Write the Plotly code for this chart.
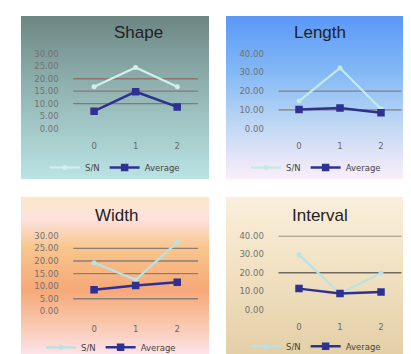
import base64
import plotly.graph_objects as go

# ---------------- data ----------------
x_labels = ["0", "1", "2"]
titles = ["Shape", "Length", "Width", "Interval"]

sn_shape = [16.8, 24.5, 16.8]
avg_shape = [7.0, 14.8, 8.7]
sn_length = [14.7, 32.3, 10.4]
avg_length = [10.2, 11.0, 8.4]
sn_width = [19.3, 12.5, 27.4]
avg_width = [8.6, 10.3, 11.6]
sn_interval = [29.8, 8.8, 19.8]
avg_interval = [11.4, 8.8, 9.6]

y_ticks_30 = [0, 5, 10, 15, 20, 25, 30]
y_ticks_40 = [0, 10, 20, 30, 40]
grid_shape = [10, 15, 20]
grid_length = [10, 20]
grid_width = [5, 15, 20, 25]
grid_interval = [20, 40]

# ---------------- layout helpers ----------------
W, H = 411, 354


def px(x):
    return x / W


def py(y):
    return 1 - y / H


def gradient_uri(stops):
    st = "".join(
        f'<stop offset="{o}" stop-color="{c}"/>' for o, c in stops
    )
    svg = (
        '<svg xmlns="http://www.w3.org/2000/svg" width="100" height="100" '
        'viewBox="0 0 100 100" preserveAspectRatio="none">'
        f'<defs><linearGradient id="g" x1="0" y1="0" x2="0" y2="1">{st}'
        '</linearGradient></defs>'
        '<rect x="0" y="0" width="100" height="100" fill="url(#g)"/></svg>'
    )
    return "data:image/svg+xml;base64," + base64.b64encode(svg.encode()).decode()


panels = [
    dict(title="Shape", sn=sn_shape, avg=avg_shape, ticks=y_ticks_30, grid=grid_shape,
         rng=30, bg=(13, 3, 201, 171), plot=(65.3, 190, 42, 119),
         tpos=(130, 20), lpos=(107, 159), gridcol="#8c7470", sncol="#d2eeee",
         grad=[(0, "#6c8682"), (0.45, "#91b4b2"), (1, "#bae3e4")]),
    dict(title="Length", sn=sn_length, avg=avg_length, ticks=y_ticks_40, grid=grid_length,
         rng=40, bg=(218, 3, 404, 171), plot=(270.5, 393.5, 41.7, 119),
         tpos=(312, 20), lpos=(308, 159), gridcol="#7f7f86", sncol="#c2eae4",
         grad=[(0, "#5a98f6"), (0.35, "#84b9f6"), (0.65, "#bcd6f3"), (1, "#fbeefa")]),
    dict(title="Width", sn=sn_width, avg=avg_width, ticks=y_ticks_30, grid=grid_width,
         rng=30, bg=(13, 189, 201, 354), plot=(65.3, 190, 229.3, 307),
         tpos=(108, 208), lpos=(103, 344), gridcol="#8a7f78", sncol="#b8e2e4",
         grad=[(0, "#fbe8c8"), (0.14, "#fde1de"), (0.32, "#f8c68c"), (0.58, "#f6a878"),
               (0.8, "#f9c8ae"), (1, "#fde6ee")]),
    dict(title="Interval", sn=sn_interval, avg=avg_interval, ticks=y_ticks_40, grid=grid_interval,
         rng=40, bg=(218, 189, 404, 354), plot=(270.5, 393.5, 229.3, 305.3),
         tpos=(312, 208), lpos=(308, 343), gridcol="#6e6a62", sncol="#b8e2e8",
         grad=[(0, "#faefdc"), (0.5, "#f0e0c0"), (1, "#e3cfa6")]),
]

fig = go.Figure()
layout = dict(
    width=W, height=H, margin=dict(l=0, r=0, t=0, b=0),
    paper_bgcolor="white", plot_bgcolor="rgba(0,0,0,0)",
    showlegend=True, images=[], shapes=[], annotations=[],
)

AVG_COLOR = "#2e3192"
FONT = "DejaVu Sans"

for i, p in enumerate(panels):
    n = "" if i == 0 else str(i + 1)
    xa, ya = "x" + n, "y" + n
    leg = "legend" + n

    fig.add_trace(go.Scatter(
        x=x_labels, y=p["sn"], mode="lines+markers", name="S/N",
        xaxis=xa, yaxis=ya, legend=leg,
        line=dict(color=p["sncol"], width=2.2),
        marker=dict(symbol="circle", size=5, color=p["sncol"]),
    ))
    fig.add_trace(go.Scatter(
        x=x_labels, y=p["avg"], mode="lines+markers", name="Average",
        xaxis=xa, yaxis=ya, legend=leg,
        line=dict(color=AVG_COLOR, width=2.5),
        marker=dict(symbol="square", size=7.5, color=AVG_COLOR),
    ))

    x0, x1, y0, y1 = p["plot"]
    layout["xaxis" + n] = dict(
        domain=[px(x0), px(x1)], anchor=ya, type="category",
        range=[-0.5, 2.5], showgrid=False, zeroline=False, showline=False,
        ticks="outside", ticklen=9, tickcolor="rgba(0,0,0,0)",
        tickfont=dict(family=FONT, size=8.5, color="#6a6a6a"),
        fixedrange=True,
    )
    layout["yaxis" + n] = dict(
        domain=[py(y1), py(y0)], anchor=xa, range=[0, p["rng"]],
        tickvals=p["ticks"], tickformat=".2f", showgrid=False, zeroline=False,
        showline=False, ticks="outside", ticklen=12, tickcolor="rgba(0,0,0,0)",
        tickfont=dict(family=FONT, size=8.5, color="#727272"),
        fixedrange=True,
    )
    for g in p["grid"]:
        layout["shapes"].append(dict(
            type="line", xref=xa + " domain", yref=ya, x0=0, x1=1, y0=g, y1=g,
            line=dict(color=p["gridcol"], width=1.3), layer="below",
        ))

    bx0, by0, bx1, by1 = p["bg"]
    layout["images"].append(dict(
        source=gradient_uri(p["grad"]), xref="paper", yref="paper",
        x=px(bx0), y=py(by0), sizex=px(bx1) - px(bx0), sizey=py(by0) - py(by1),
        xanchor="left", yanchor="top", sizing="stretch", layer="below",
    ))

    tx, ty = p["tpos"]
    layout["annotations"].append(dict(
        text=p["title"], xref="paper", yref="paper", x=px(tx), y=py(ty),
        xanchor="center", yanchor="middle", showarrow=False,
        font=dict(family="Liberation Sans", size=17, color="#222222"),
    ))

    lx, ly = p["lpos"]
    layout[leg] = dict(
        orientation="h", x=px(lx), y=py(ly), xanchor="center", yanchor="middle",
        bgcolor="rgba(0,0,0,0)", font=dict(family=FONT, size=8.5, color="#444444"),
        itemwidth=30, tracegroupgap=0,
    )

fig.update_layout(**layout)
fig.write_html("out.html")
